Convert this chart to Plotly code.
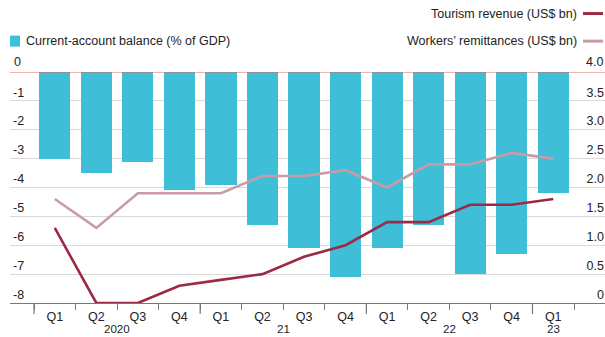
import plotly.graph_objects as go

# Quarterly data, Q1 2020 - Q1 2023
quarters = ["Q1", "Q2", "Q3", "Q4", "Q1", "Q2", "Q3", "Q4", "Q1", "Q2", "Q3", "Q4", "Q1"]
periods = [f"{q}-{i}" for i, q in enumerate(quarters)]
current_account = [-3.0, -3.5, -3.1, -4.1, -3.9, -5.3, -6.1, -7.1, -6.1, -5.3, -7.0, -6.3, -4.2]
tourism = [1.3, 0.0, 0.0, 0.3, 0.4, 0.5, 0.8, 1.0, 1.4, 1.4, 1.7, 1.7, 1.8]
remittances = [1.8, 1.3, 1.9, 1.9, 1.9, 2.2, 2.2, 2.3, 2.0, 2.4, 2.4, 2.6, 2.5]

left_ticks = [0, -1, -2, -3, -4, -5, -6, -7, -8]
right_ticks = [0, 0.5, 1.0, 1.5, 2.0, 2.5, 3.0, 3.5, 4.0]
right_labels = ["0", "0.5", "1.0", "1.5", "2.0", "2.5", "3.0", "3.5", "4.0"]
years = [("2020", 1.5), ("21", 5.5), ("22", 9.5), ("23", 12)]
year_starts = [-0.5, 3.5, 7.5, 11.5]

BAR = "#3fbfd7"
TOUR = "#9c2a45"
REMIT = "#c89ba6"
FONT = "Liberation Sans, Arial, sans-serif"
TXT = "#222"
W, H = 605, 337
L, R, T, B = 10, 0, 72.3, 34.3
plot_w = W - L - R
plot_h = H - T - B

fig = go.Figure()
fig.add_trace(go.Bar(x=periods, y=current_account, marker_color=BAR,
                     marker_line_width=0, width=0.75, yaxis="y"))
fig.add_trace(go.Scatter(x=periods, y=remittances, mode="lines",
                         line=dict(color=REMIT, width=2.6), yaxis="y2"))
fig.add_trace(go.Scatter(x=periods, y=tourism, mode="lines",
                         line=dict(color=TOUR, width=2.6), yaxis="y2", cliponaxis=False))

fig.update_layout(
    width=W, height=H,
    margin=dict(l=L, r=R, t=T, b=B),
    plot_bgcolor="white", paper_bgcolor="white",
    showlegend=False, bargap=0,
    font=dict(family=FONT, size=13, color=TXT),
    xaxis=dict(
        type="category", range=[-1.078, 13.246],
        tickmode="array", tickvals=periods, ticktext=quarters,
        tickson="boundaries", ticks="outside", ticklen=6, tickwidth=1.2,
        tickcolor="#777", showline=True, linecolor="#777", linewidth=1.4,
        showgrid=False, tickfont=dict(size=12.5, color=TXT), ticklabelstandoff=2,
    ),
    yaxis=dict(
        range=[-8, 0], tickvals=left_ticks, ticktext=[str(v) for v in left_ticks],
        showgrid=True, gridcolor="#d9d9d9", gridwidth=1, zeroline=False,
        ticklabelposition="inside top", ticks="",
        tickfont=dict(size=12.5, color=TXT),
    ),
    yaxis2=dict(
        range=[0, 4], overlaying="y", side="right",
        tickvals=right_ticks, ticktext=right_labels,
        showgrid=False, zeroline=False,
        ticklabelposition="inside top", ticks="", ticklabelstandoff=-2,
        tickfont=dict(size=12.5, color=TXT),
    ),
)

# top-row axis labels sit above the plot area, so they are placed explicitly
fig.add_annotation(x=0, xref="paper", y=0, yref="y", xanchor="left", yanchor="bottom",
                   xshift=2, yshift=1, text=str(left_ticks[0]), showarrow=False,
                   font=dict(size=12.5, color=TXT))
fig.add_annotation(x=1, xref="paper", y=right_ticks[-1], yref="y2", xanchor="right",
                   yanchor="bottom", xshift=0, yshift=1, text=right_labels[-1],
                   showarrow=False, font=dict(size=12.5, color=TXT))

# red baseline at zero
fig.add_shape(type="line", xref="paper", yref="y", x0=0, x1=1, y0=0, y1=0,
              line=dict(color="#e0675c", width=1.2), layer="above")

# longer ticks marking the start of each year
for xs in year_starts:
    fig.add_shape(type="line", xref="x", yref="paper", x0=xs, x1=xs,
                  y0=0, y1=-11 / plot_h, line=dict(color="#777", width=1.2))

for label, xpos in years:
    fig.add_annotation(x=xpos, xref="x", y=0, yref="paper", yanchor="top",
                       text=label, showarrow=False, yshift=-(321 - (H - B)),
                       font=dict(size=11.5, color=TXT))

# legend keys
fig.add_shape(type="rect", xref="paper", yref="paper",
              x0=0, x1=10 / plot_w, y0=1 + (T - 47) / plot_h, y1=1 + (T - 36) / plot_h,
              fillcolor=BAR, line_width=0)
fig.add_annotation(x=14 / plot_w, xref="paper", y=1 + (T - 41.5) / plot_h, yref="paper",
                   xanchor="left", yanchor="middle", text="Current-account balance (% of GDP)",
                   showarrow=False, font=dict(size=12.5, color=TXT))
for txt, col, ypx in [("Tourism revenue (US$ bn)", TOUR, 14),
                      ("Workers’ remittances (US$ bn)", REMIT, 41.5)]:
    yp = 1 + (T - ypx) / plot_h
    fig.add_annotation(x=(579 - L) / plot_w, xref="paper", y=yp, yref="paper",
                       xanchor="right", yanchor="middle", text=txt, showarrow=False,
                       font=dict(size=12.5, color=TXT))
    fig.add_shape(type="line", xref="paper", yref="paper",
                  x0=(583 - L) / plot_w, x1=(603 - L) / plot_w, y0=yp, y1=yp,
                  line=dict(color=col, width=3))

fig.write_html("out.html")
